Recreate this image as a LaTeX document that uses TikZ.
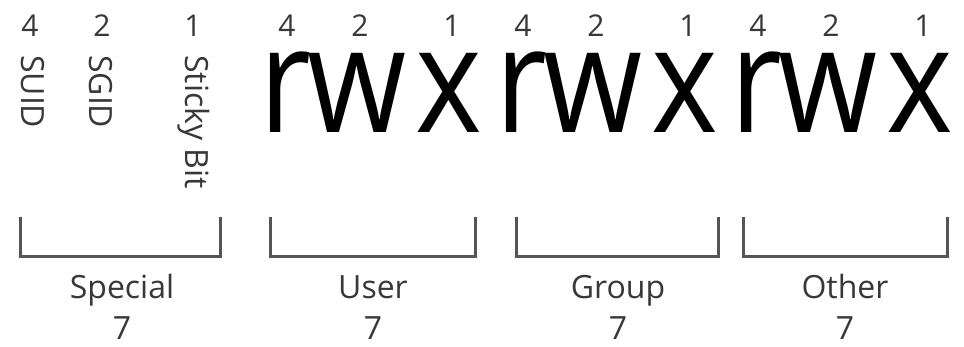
\documentclass[tikz,border=0pt]{standalone}
\usepackage{fontspec}
\setmainfont{Open Sans}
\definecolor{lbl}{HTML}{383838}
\definecolor{brk}{HTML}{555555}
\newcommand{\permletter}[1]{\scalebox{0.86}[1]{#1}}
\begin{document}
\begin{tikzpicture}[x=1pt,y=-1pt,
  big/.style={font=\fontsize{148}{150}\selectfont, inner sep=0pt, anchor=base, text=black},
  digit/.style={font=\fontsize{30}{32}\selectfont, inner sep=0pt, anchor=base, text=lbl},
  vert/.style={font=\fontsize{32}{34}\selectfont, inner sep=0pt, rotate=-90, anchor=west, text=lbl},
  grp/.style={font=\fontsize{32}{34}\selectfont, inner sep=0pt, anchor=base, text=lbl},
  bracket/.style={draw=brk, line width=3pt}]
\useasboundingbox[fill=white] (0,0) rectangle (964,347);
% special bits
\node[digit] (s4) at (30,37) {4};
\node[digit] (s2) at (102,37) {2};
\node[digit] (s1) at (193,37) {1};
\node[vert] (suid) at (33,55) {SUID};
\node[vert] (sgid) at (101,55) {SGID};
\node[vert] (sticky) at (194,55) {Sticky Bit};
% user, group, other
\foreach \name/\cx in {u/0, g/236, o/471}{
  \node[digit] (\name4) at (287+\cx,37) {4};
  \node[digit] (\name2) at (360+\cx,37) {2};
  \node[digit] (\name1) at (452+\cx,37) {1};
  \node[big] (\name r) at (285+\cx,133) {\permletter{r}};
  \node[big] (\name w) at (357+\cx,133) {\permletter{w}};
  \node[big] (\name x) at (449+\cx,133) {\permletter{x}};
}
% brackets
\draw[bracket] (20,217) -- (20,257) -- (220,257) -- (220,217);
\draw[bracket] (270,217) -- (270,257) -- (475,257) -- (475,217);
\draw[bracket] (516,217) -- (516,257) -- (718,257) -- (718,217);
\draw[bracket] (743,217) -- (743,257) -- (947,257) -- (947,217);
% labels
\node[grp] (lspecial) at (122,299) {Special};
\node[grp] (luser) at (373,299) {User};
\node[grp] (lgroup) at (618,299) {Group};
\node[grp] (lother) at (845,299) {Other};
\node[grp] (n1) at (122,340) {7};
\node[grp] (n2) at (373,340) {7};
\node[grp] (n3) at (618,340) {7};
\node[grp] (n4) at (845,340) {7};
\end{tikzpicture}
\end{document}
